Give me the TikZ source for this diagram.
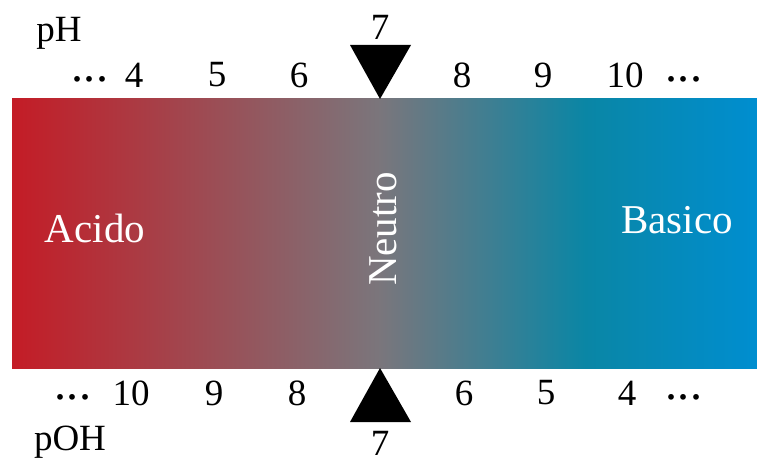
\documentclass[tikz,border=0pt]{standalone}
\usepackage{fontspec}
\setmainfont{Liberation Serif}
\definecolor{cred}{RGB}{196,28,38}
\definecolor{cmid}{RGB}{122,118,124}
\definecolor{cteal}{RGB}{10,134,165}
\definecolor{cblue}{RGB}{0,142,208}
\begin{document}
\begin{tikzpicture}[x=1pt,y=-1pt,
  lbl/.style={font=\fontsize{37}{42}\selectfont, inner sep=0pt, anchor=center},
  wlbl/.style={font=\fontsize{41}{46}\selectfont, inner sep=0pt, anchor=center, text=white},
  tri/.style={fill=black}]
\useasboundingbox (0,0) rectangle (757,465);
\shade[left color=cred, right color=cmid] (12,99) rectangle (380.5,368);
\shade[left color=cmid, right color=cteal] (380,99) rectangle (585.5,368);
\shade[left color=cteal, right color=cblue] (585,99) rectangle (757,368);
\coordinate (ctop) at (380,99);
\coordinate (cbot) at (380,368);
\fill[tri] (ctop) -- (350,45) -- (411,45) -- cycle;
\fill[tri] (cbot) -- (350,422) -- (411,422) -- cycle;
\node[lbl] (ph) at (59,33) {pH};
\node[lbl] (poh) at (70,442) {pOH};
\node[lbl] (t7) at (380,27) {7};
\node[lbl] (b7) at (380,443) {7};
\node[lbl, scale=1.3] (td1) at (90,79) {...};
\node[lbl] (t4) at (134,75) {4};
\node[lbl] (t5) at (217,75) {5};
\node[lbl] (t6) at (299,75) {6};
\node[lbl] (t8) at (462,75) {8};
\node[lbl] (t9) at (543,75) {9};
\node[lbl] (t10) at (625,75) {10};
\node[lbl, scale=1.3] (td2) at (684,79) {...};
\node[lbl, scale=1.3] (bd1) at (73,397) {...};
\node[lbl] (b10) at (131,393) {10};
\node[lbl] (b9) at (214,393) {9};
\node[lbl] (b8) at (297,393) {8};
\node[lbl] (b6) at (464,393) {6};
\node[lbl] (b5) at (546,393) {5};
\node[lbl] (b4) at (627,393) {4};
\node[lbl, scale=1.3] (bd2) at (684,397) {...};
\node[wlbl] (acido) at (95,228) {Acido};
\node[wlbl] (basico) at (677,220) {Basico};
\node[wlbl, rotate=90] (neutro) at (383,229) {Neutro};
\end{tikzpicture}
\end{document}
